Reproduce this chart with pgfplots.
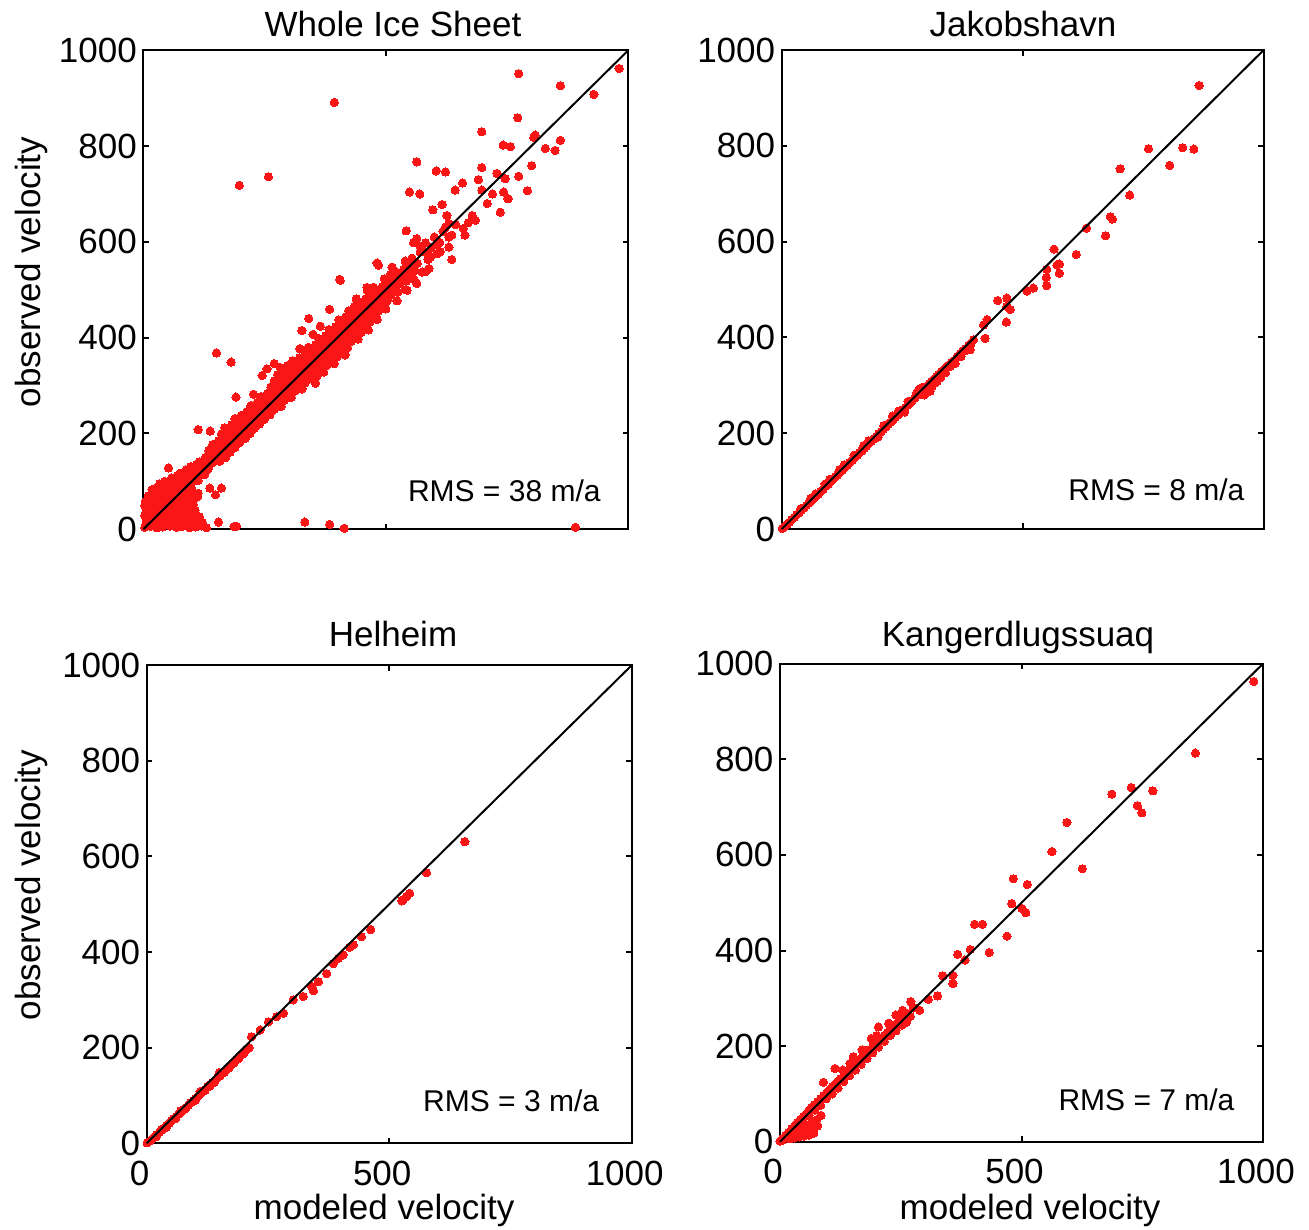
\documentclass[border=0pt]{standalone}
\usepackage{fontspec}
\setmainfont{Liberation Sans}
\usepackage{pgfplots}
\pgfplotsset{compat=1.18}
\definecolor{ptred}{RGB}{250,22,22}
\pgfplotsset{
  panel/.style={
    scale only axis,
    xmin=0,xmax=1000,ymin=0,ymax=1000,
    xtick={0,500,1000}, ytick={0,200,400,600,800,1000},
    tick align=inside,
    major tick length=2pt,
    axis line style={line width=0.8pt},
    every tick/.style={black, line width=0.7pt},
    tick label style={font=\fontsize{12.25}{14}\selectfont},
    /pgf/number format/assume math mode=true,
    /pgf/number format/1000 sep={},
    yticklabel style={inner sep=0pt, xshift=-2.1pt},
    xticklabel style={inner sep=0pt, yshift=-6pt, xshift=-2.45pt},
    clip=false,
    clip marker paths=true,
  },
  pts/.style={only marks, mark=*, mark size=1.45pt, color=ptred,
    mark options={fill=ptred, draw=ptred, line width=0pt}},
  diag/.style={black, line width=0.7pt},
}
\tikzset{rms/.style={anchor=base east, inner sep=0pt, font=\fontsize{10.5}{12}\selectfont}}
\begin{document}
\begin{tikzpicture}[every node/.append style={font=\fontsize{12.25}{14}\selectfont}]
\useasboundingbox (0,0) rectangle (458.15pt,430.5pt);

% ---------------- Whole Ice Sheet ----------------
\begin{axis}[panel, at={(50.16pt,245.25pt)}, anchor=south west,
  width=169.75pt, height=167.65pt, xticklabels={}]
% blob near origin
\addplot[pts] coordinates {
(3,4) (15,6) (28,3) (40,5) (55,7) (68,4) (80,6) (95,3) (108,5) (120,7) (130,3)
(6,17) (19,15) (31,18) (44,16) (57,14) (71,17) (85,15) (98,18) (110,16) (122,14)
(3,29) (15,27) (27,30) (40,28) (52,26) (65,29) (78,27) (92,30) (105,28) (116,26)
(6,41) (18,39) (30,42) (42,40) (54,38) (67,41) (80,39) (93,42) (107,40)
(3,50) (14,51) (26,54) (39,52) (51,50) (63,53) (76,51) (89,54) (103,52)
(4,58) (17,63) (29,66) (41,64) (54,62) (67,65) (79,63) (92,66) (105,64) (112,68)
(10,70) (19,75) (31,78) (44,76) (57,74) (70,77) (83,75) (96,78) (103,74)
(18,83) (26,86) (34,86) (47,88) (60,90) (73,87) (86,89) (99,86)
(34,95) (44,100) (58,100) (72,98) (86,101) (100,99) (113,102)
(58,107) (70,112) (84,110) (98,113) (112,111) (126,114)
(76,117) (88,124) (102,122) (116,125) (130,123) (134,126)
(98,131) (110,136) (124,134) (138,137) (142,139)
(116,141) (128,150) (140,152)
(113,75) (137,86) (161,86) (149,72)
};
% dense band
\addplot[pts] coordinates {
(158,142) (155,145) (148,152) (141,159) (135,165)
(170,150) (163,157) (156,164) (149,171) (143,177)
(179,161) (176,164) (169,171) (162,178) (155,185)
(189,171) (182,178) (175,185) (168,192) (161,199)
(199,181) (195,185) (188,192) (181,199) (174,206) (168,212)
(210,190) (203,197) (196,204) (189,211) (182,218)
(220,200) (216,204) (209,211) (202,218) (195,225) (189,231)
(229,211) (222,218) (215,225) (208,232) (202,238)
(240,220) (235,225) (228,232) (221,239) (214,246)
(250,230) (243,237) (236,244) (229,251) (222,258)
(261,239) (256,244) (249,251) (242,258) (235,265)
(270,250) (263,257) (256,264) (249,271) (243,277)
(284,256) (277,263) (270,270) (263,277) (256,284)
(291,269) (284,276) (277,283) (270,290) (263,297)
(305,275) (298,282) (291,289) (284,296) (277,303) (270,310)
(312,288) (305,295) (298,302) (291,309) (284,316) (277,323)
(327,293) (319,301) (312,308) (305,315) (298,322) (290,330)
(334,306) (327,313) (320,320) (313,327) (306,334) (298,342)
(355,305) (346,314) (338,322) (331,329) (324,336) (317,343) (308,352)
(359,321) (351,329) (344,336) (337,343) (330,350) (322,358)
(372,328) (363,337) (355,345) (348,352) (341,359) (334,366) (323,377)
(378,342) (370,350) (363,357) (356,364) (349,371) (340,380)
(394,346) (385,355) (377,363) (370,370) (363,377) (355,385)
(400,360) (391,369) (384,376) (377,383) (370,390) (362,398)
(416,364) (406,374) (398,382) (391,389) (384,396) (376,404)
(421,379) (412,388) (405,395) (398,402) (391,409) (383,417)
(428,392) (419,401) (412,408) (405,415) (397,423)
(443,397) (434,406) (426,414) (419,421) (412,428) (403,437)
(449,411) (440,420) (433,427) (425,435) (417,443)
(464,416) (455,425) (447,433) (440,440) (432,448) (424,456)
(467,433) (459,441) (451,449) (443,457) (435,465)
(482,438) (472,448) (464,456) (456,464) (448,472) (439,481)
(485,455) (476,464) (468,472) (459,481)
(500,460) (490,470) (480,480) (471,489) (462,498)
(503,477) (494,486) (485,495) (475,505)
(523,477) (511,489) (502,498) (493,507)
(525,495) (515,505) (506,514) (497,523)
(540,500) (528,512) (518,522) (509,531)
(542,518) (533,527) (524,536) (513,547)
(558,522) (547,533) (537,543)
(560,540) (550,550) (540,560)
(582,538) (565,555) (554,566)
(587,563) (571,579)
(605,575) (593,587) (582,598)
(611,599) (600,610)
(630,610) (618,622)
(644,636) (670,640)
};
% scattered points
\addplot[pts] coordinates {
(774,951) (981,962) (860,926) (929,908) (394,891) (772,859) (698,830) (808,823) (805,818)
(860,812) (742,802) (757,799) (829,795) (849,791) (198,718) (258,736) (564,767) (801,759)
(604,748) (623,746) (698,755) (691,730) (729,743) (746,732) (774,737) (658,723) (549,704)
(570,700) (643,708) (698,708) (720,700) (743,704) (752,690) (792,707) (736,662) (709,680)
(597,667) (616,678) (626,655) (630,638) (623,631) (678,655) (685,645) (660,628) (663,614)
(636,614) (542,623) (564,607) (557,598) (571,591) (581,579) (592,568) (606,593) (612,579)
(630,589) (636,563) (482,556) (485,551) (405,522) (406,520) (544,499) (564,513) (575,537)
(589,544) (461,505)
(151,368) (181,349) (191,276) (227,282) (245,321) (255,335) (270,346) (282,338)
(327,415) (350,407) (341,440) (365,424) (384,459)
(52,128) (113,208) (138,205) (155,15) (187,6) (192,6)
(333,15) (384,10) (414,2) (891,4)
};
\addplot[diag] coordinates {(0,0) (1000,1000)};
\node[rms] at (axis cs:944,58) {RMS = 38 m/a};
\end{axis}

% ---------------- Jakobshavn ----------------
\begin{axis}[panel, at={(273.6pt,245.35pt)}, anchor=south west,
  width=168.7pt, height=167.65pt, xticklabels={}]
\addplot[pts] coordinates {
(1,1) (6,5) (11,10) (16,14) (21,20) (26,24) (31,30) (36,34) (41,39) (46,44) (51,49) (56,54)
(61,59) (66,63) (71,69) (76,73) (81,79) (86,83) (91,89) (96,93) (101,99) (106,103) (111,109)
(116,113) (121,119) (126,123) (131,129) (136,133) (141,139) (146,143) (151,149) (156,153)
(161,159) (166,163) (171,168) (176,173) (181,179) (186,183) (191,188) (196,193) (201,199)
(206,203) (211,208) (216,213) (221,219) (226,223) (231,228) (236,233) (241,238) (246,243)
(251,249) (256,253) (261,258) (266,263) (271,268) (276,273) (281,279) (286,283) (291,288)
(296,293) (301,298) (306,303) (311,308) (316,313) (321,318) (326,322) (331,328) (336,332)
(341,338) (346,342) (352,348) (358,352) (364,360) (370,366) (376,372) (382,376) (388,384)
(60,64) (90,94) (120,124) (150,154) (180,184) (200,192) (230,236) (255,244) (280,284)
(285,292) (292,296) (300,290) (305,300) (312,298) (318,305) (296,280) (308,288) (322,308)
(330,316) (340,326) (350,340) (360,346) (372,360) (380,372) (392,386) (262,266) (242,246)
(212,216) (170,174) (130,134) (100,104) (70,73) (40,43)
(866,926) (761,794) (832,796) (855,793) (805,759) (702,752) (722,697) (682,652) (686,647)
(632,628) (672,612) (565,584) (611,573) (571,551) (576,553) (550,542) (576,534) (549,525)
(550,508) (522,503) (509,497) (467,482) (448,477) (467,465) (474,458) (466,432) (426,437)
(419,426) (422,398) (398,395) (391,374)
};
\addplot[diag] coordinates {(0,0) (1000,1000)};
\node[rms] at (axis cs:961,60) {RMS = 8 m/a};
\end{axis}

% ---------------- Helheim ----------------
\begin{axis}[panel, at={(51.35pt,30.35pt)}, anchor=south west,
  width=169.75pt, height=167.3pt]
\addplot[pts] coordinates {
(1,1) (6,4) (11,9) (16,13) (21,18) (26,23) (31,28) (36,32) (41,37) (46,42) (51,47) (56,51)
(61,56) (66,61) (71,66) (76,70) (81,75) (86,80) (91,85) (96,89) (101,94) (106,99) (111,104)
(116,108) (121,113) (126,118) (131,123) (136,127) (141,132) (146,137) (151,142) (156,147)
(161,151) (166,156) (171,161) (176,166) (181,170) (186,175) (191,181) (196,186) (201,190)
(206,196) (211,200)
(20,14) (40,33) (60,52) (80,72) (100,90) (120,110) (130,120) (140,128) (150,140) (160,148)
(170,158) (180,168) (190,178) (200,188) (30,29) (70,68) (110,108) (150,148)
(656,631) (577,566) (528,509) (536,516) (542,523) (526,507) (462,447) (443,432) (426,415)
(419,410) (405,394) (395,387) (385,376) (371,355) (354,338) (340,328) (344,319) (323,307)
(302,300) (282,272) (268,265) (251,254) (234,237) (216,223)
};
\addplot[diag] coordinates {(0,0) (1000,1000)};
\node[rms] at (axis cs:934,67) {RMS = 3 m/a};
\end{axis}

% ---------------- Kangerdlugssuaq ----------------
\begin{axis}[panel, at={(273pt,30.9pt)}, anchor=south west,
  width=169.05pt, height=167.3pt]
\addplot[pts] coordinates {
(5,3) (12,8) (20,12) (28,14) (35,18) (42,20) (50,22) (58,25) (65,28) (72,30) (78,33)
(20,6) (30,8) (40,10) (50,12) (60,14) (70,18) (45,30) (55,35) (35,25) (65,40) (75,45) (85,55)
(0,1) (6,7) (12,14) (18,20) (24,27) (30,33) (36,40) (42,46) (48,52) (54,58) (60,66) (66,72)
(72,78) (78,84) (84,90) (90,96) (96,102) (102,108) (108,115) (114,120) (120,127) (126,132)
(132,139) (138,144) (144,151) (150,157) (156,163) (162,168) (168,175) (174,181) (180,187)
(186,192) (192,199) (198,205) (204,210) (210,216) (216,222) (222,228) (228,235) (234,240)
(240,246) (246,252) (252,258) (258,262) (264,268)
(60,55) (72,66) (84,76) (96,90) (108,100) (120,112) (132,126) (144,138) (156,150) (168,162)
(180,174) (192,186) (204,198) (216,210) (228,222) (240,232) (252,244) (262,250) (270,262)
(276,280)
(90,124) (114,153) (145,164) (152,178) (189,216) (204,240) (130,150) (170,192) (200,222)
(225,248) (240,265)
(981,963) (860,813) (687,727) (727,741) (772,734) (740,703) (749,688) (594,668) (563,607)
(626,571) (483,550) (512,538) (480,498) (501,488) (509,479) (403,455) (419,455) (470,430)
(368,392) (394,402) (383,380) (433,396) (337,347) (358,348) (358,331) (326,305) (307,298)
(289,275) (271,293) (254,275)
};
\addplot[diag] coordinates {(0,0) (1000,1000)};
\node[rms] at (axis cs:942,65) {RMS = 7 m/a};
\end{axis}

% ---------------- titles and labels ----------------
\node[anchor=base] at (137.55pt,417.55pt) {Whole Ice Sheet};
\node[anchor=base] at (358.05pt,417.55pt) {Jakobshavn};
\node[anchor=base] at (137.55pt,204.05pt) {Helheim};
\node[anchor=base] at (356.3pt,204.05pt) {Kangerdlugssuaq};
\node[anchor=base, rotate=90] at (14pt,335.3pt) {observed velocity};
\node[anchor=base, rotate=90] at (14pt,120.75pt) {observed velocity};
\node[anchor=base] at (134.4pt,3.5pt) {modeled velocity};
\node[anchor=base] at (360.5pt,3.5pt) {modeled velocity};
\end{tikzpicture}
\end{document}
